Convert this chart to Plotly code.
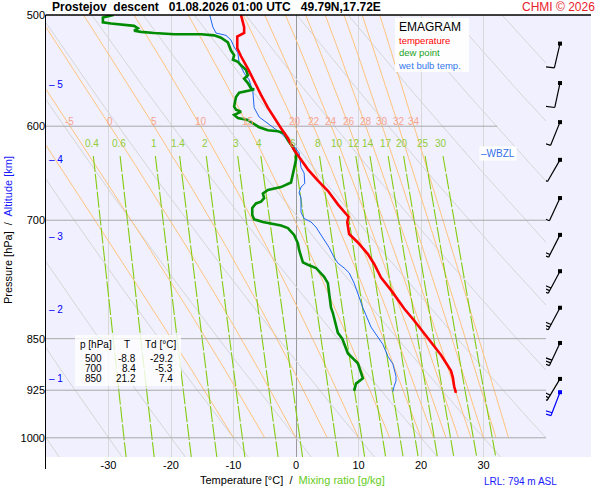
import numpy as np
import plotly.graph_objects as go

# ---- sounding (pressure hPa, temperature degC) ----
TEMP_P = [500, 510, 515, 518, 528, 535, 546, 558, 570, 582, 592, 602, 612, 624, 631,
          644, 656, 667, 682, 696, 702, 716, 726, 740, 752, 769, 785, 809, 825, 850,
          873, 896, 906, 919, 929]
TEMP_T = [-8.8, -8.3, -8.3, -9.4, -9.4, -8.8, -7.7, -6.7, -5.6, -4.5, -3.5, -2.4, -1.3, -0.3, 0.5,
          1.9, 3.5, 5.1, 6.7, 8.4, 8.2, 8.5, 9.9, 11.5, 12.5, 13.6, 15.2, 17.3, 18.9, 21.2,
          23.2, 24.8, 25.1, 25.3, 25.6]

DEW_P = [500, 502, 506, 507, 509, 511, 513, 514, 515, 516, 516, 517, 519, 523, 530,
         534, 538, 540, 543, 547, 552, 555, 559, 564, 565, 567, 568, 572, 581, 584,
         586, 589, 592, 594, 601, 604, 605, 607, 614, 621, 627, 634, 642, 648, 658,
         663, 666, 670, 675, 679, 681, 686, 694, 699, 702, 706, 709, 717, 727, 735,
         750, 753, 757, 768, 776, 789, 808, 815, 842, 850, 871, 878, 885, 907, 915, 926]
DEW_T = [-29.2, -30.9, -30.9, -29.6, -25.9, -25.3, -25.9, -24.8, -22.7, -19.5, -15.2, -13.1, -12.0, -10.9, -10.4,
         -9.9, -10.1, -9.3, -8.8, -8.0, -7.7, -8.3, -7.7, -7.2, -6.7, -8.0, -9.1, -9.6, -9.9, -9.6,
         -8.8, -9.9, -9.3, -7.7, -5.9, -4.5, -2.9, -1.9, -1.3, -0.5, 0.0, 0.0, -0.3, -0.5, -0.8,
         -2.4, -4.5, -5.3, -5.1, -5.6, -6.4, -7.0, -7.0, -6.7, -5.3, -2.4, -1.3, -0.3, 0.3, 0.5,
         1.1, 1.9, 3.2, 4.5, 5.1, 5.3, 5.6, 5.9, 6.7, 7.4, 8.3, 9.1, 9.9, 10.7, 9.6, 9.3]

WB_P = [500, 510, 515, 517, 521, 527, 532, 541, 550, 556, 567, 582, 591, 597, 602,
        607, 614, 620, 627, 642, 648, 659, 663, 669, 675, 691, 698, 702, 708, 720,
        732, 744, 751, 757, 763, 776, 794, 808, 834, 844, 858, 875, 886, 904, 911, 919, 927]
WB_T = [-13.8, -13.3, -12.8, -11.2, -10.4, -9.9, -9.3, -9.1, -8.3, -7.5, -6.9, -6.7, -5.9, -4.5, -3.5,
        -2.4, -1.3, -0.3, 0.5, 0.8, 1.3, 1.4, 0.8, 0.5, 0.8, 0.8, 1.3, 2.4, 3.2, 4.3,
        5.3, 6.1, 6.7, 7.7, 8.5, 9.3, 10.1, 10.7, 12.0, 12.8, 13.9, 14.7, 15.5, 16.0, 16.0, 15.7, 15.5]

# winds: pressure of the barb, direction (deg), speed (kt)
WIND_P = [524, 559, 596, 634, 675, 717, 761, 808, 856, 908]
WIND_DIR = [193, 192, 202, 210, 205, 207, 208, 208, 205, 211]
WIND_KT = [10, 10, 10, 10, 10, 20, 30, 30, 30, 30]
SFC_P, SFC_DIR, SFC_KT = 928, 201, 20

TABLE_P = ["500", "700", "850"]
TABLE_T = ["-8.8", "8.4", "21.2"]
TABLE_TD = ["-29.2", "-5.3", "7.4"]

ALT_KM = [1, 2, 3, 4, 5]
ALT_P = [908, 810, 719, 634, 560]
WBZL_P = 627

# background lines of the emagram
ISOBARS = [600, 700, 850, 925, 1000]
ISOTHERMS = [-30, -20, -10, 0, 10, 20, 30]
DRY_THETA = [-40, -30, -20, -10, 0, 10, 20, 30, 40, 50, 60, 70, 80, 90, 100]
MOIST_TW = [-10, -5, 0, 5, 10, 15, 20, 22, 24, 26, 28, 30, 32, 34]
MIX_RATIO = [0.4, 0.6, 1, 1.4, 2, 3, 4, 6, 8, 10, 12, 14, 17, 20, 25, 30]

# ---- geometry (pixels of the 600x500 page) ----
W, H = 600, 500
ML, MR, MT, MB = 46, 9, 15, 43
PW, PH = W - ML - MR, H - MT - MB
P_TOP, P_BOT = 500, 1032
T_MIN, T_MAX = -40, 40
XDOM = 500 / PW
PX_PER_LN = PH / np.log(P_BOT / P_TOP)
FONT = "Liberation Sans, Arial, sans-serif"


def px(x):
    return (x - ML) / PW


def py(y):
    return (H - MB - y) / PH


def td_from_mixing(w, p):
    e = p * w / (622.0 + w)
    a = np.log(e / 6.112)
    return 243.5 * a / (17.67 - a)


def moist_lapse(t, p):
    tc = t - 273.15
    es = 6.112 * np.exp(17.67 * tc / (tc + 243.5))
    rs = 0.622 * es / (p - es)
    return (287.04 * t + 2.501e6 * rs) / (p * (1005.7 + 2.501e6 ** 2 * rs * 0.622 / (287.04 * t * t)))


def pseudo_adiabat(tw):
    p = np.arange(1000.0, 499.0, -2.0)
    t = np.empty_like(p)
    t[0] = tw + 273.15
    for i in range(1, len(p)):
        dp = p[i] - p[i - 1]
        k1 = moist_lapse(t[i - 1], p[i - 1])
        k2 = moist_lapse(t[i - 1] + 0.5 * dp * k1, p[i - 1] + 0.5 * dp)
        t[i] = t[i - 1] + dp * k2
    return p, t - 273.15


def barb_xy(p0, direction, speed, x0=14.0):
    a = np.radians(direction)
    s = np.array([np.sin(a), -np.cos(a)])
    phi = np.radians(85)
    f = np.array([s[0] * np.cos(phi) - s[1] * np.sin(phi), s[0] * np.sin(phi) + s[1] * np.cos(phi)])
    segs = [(np.zeros(2), 25 * s)]
    n_full, rest = divmod(speed, 10)
    for k in range(n_full):
        st = (25 - 3 * k) * s
        segs.append((st, st + 11 * f))
    if rest >= 5:
        st = (25 - 3 * n_full) * s
        segs.append((st, st + 6 * f))
    xs, ps = [], []
    for a0, a1 in segs:
        for d in (a0, a1):
            xs.append(x0 + d[0])
            ps.append(p0 * np.exp(d[1] / PX_PER_LN))
        xs.append(None)
        ps.append(None)
    return xs, ps


fig = go.Figure()

# dry adiabats
p_dry = np.linspace(P_TOP, P_BOT, 60)
for th in DRY_THETA:
    t = (th + 273.15) * (p_dry / 1000.0) ** 0.2857 - 273.15
    fig.add_trace(go.Scatter(x=t, y=p_dry, mode="lines", line=dict(color="#D6D6D6", width=1), hoverinfo="skip"))

# pseudo-adiabats
t600 = {}
for tw in MOIST_TW:
    pp, tt = pseudo_adiabat(tw)
    t600[tw] = float(np.interp(600, pp[::-1], tt[::-1]))
    fig.add_trace(go.Scatter(x=tt, y=pp, mode="lines", line=dict(color="#FFC47E", width=1), hoverinfo="skip"))

# mixing ratio lines
p_mix = np.linspace(630, P_BOT, 20)
for w in MIX_RATIO:
    fig.add_trace(go.Scatter(x=td_from_mixing(w, p_mix), y=p_mix, mode="lines",
                             line=dict(color="#84CC10", width=1.1, dash="16px,2px"), hoverinfo="skip"))

# isobars
for p in ISOBARS:
    x_end = 32.2 if p == 600 else T_MAX
    fig.add_trace(go.Scatter(x=[T_MIN, x_end], y=[p, p], mode="lines",
                             line=dict(color="#A9A9A9", width=1), hoverinfo="skip"))

# profiles
fig.add_trace(go.Scatter(x=WB_T, y=WB_P, mode="lines", line=dict(color="#1E66F0", width=1)))
fig.add_trace(go.Scatter(x=DEW_T, y=DEW_P, mode="lines", line=dict(color="#008C00", width=2.6)))
fig.add_trace(go.Scatter(x=TEMP_T, y=TEMP_P, mode="lines", line=dict(color="#FF0000", width=2.6)))

# wind barbs
bx, bp = [], []
for p0, d, v in zip(WIND_P, WIND_DIR, WIND_KT):
    xs, ps = barb_xy(p0, d, v)
    bx += xs
    bp += ps
fig.add_trace(go.Scatter(x=bx, y=bp, xaxis="x2", mode="lines", line=dict(color="black", width=1.2)))
fig.add_trace(go.Scatter(x=[14] * len(WIND_P), y=WIND_P, xaxis="x2", mode="markers",
                         marker=dict(color="black", size=4, symbol="square")))
sx, sp = barb_xy(SFC_P, SFC_DIR, SFC_KT)
fig.add_trace(go.Scatter(x=sx, y=sp, xaxis="x2", mode="lines", line=dict(color="#0000FF", width=1.2)))
fig.add_trace(go.Scatter(x=[14], y=[SFC_P], xaxis="x2", mode="markers",
                         marker=dict(color="#0000FF", size=4, symbol="square")))

ann = []
# pseudo-adiabat labels on the 600 hPa line
for tw in MOIST_TW[1:]:
    ann.append(dict(x=t600[tw], y=np.log10(600), xref="x", yref="y", text=str(tw),
                    yshift=5, font=dict(size=10, color="#F6A48E")))
# mixing ratio labels
for w in MIX_RATIO:
    ann.append(dict(x=float(td_from_mixing(w, 617)), y=np.log10(617), xref="x", yref="y",
                    text=f"{w:g}", font=dict(size=10, color="#92CC3A")))
# altitude ticks
for km, p in zip(ALT_KM, ALT_P):
    ann.append(dict(x=px(47), y=np.log10(p), xref="paper", yref="y", text=f"– {km}",
                    xanchor="left", font=dict(size=10, color="#0000FF")))
ann.append(dict(x=px(479), y=np.log10(WBZL_P), xref="paper", yref="y", text="–WBZL",
                xanchor="left", bgcolor="white", borderpad=1, font=dict(size=10, color="#3370E8")))

# title and credits
ann.append(dict(x=px(50), y=py(7), xref="paper", yref="paper", xanchor="left",
                text="<b>Prostejov  descent   01.08.2026 01:00 UTC   49.79N,17.72E</b>",
                font=dict(size=12, color="black")))
ann.append(dict(x=px(597), y=py(7), xref="paper", yref="paper", xanchor="right",
                text="CHMI © 2026", font=dict(size=12, color="#E8202A")))

# legend box
ann.append(dict(x=px(397), y=py(27), xref="paper", yref="paper", xanchor="left",
                text="EMAGRAM", font=dict(size=12, color="black")))
ann.append(dict(x=px(397), y=py(53), xref="paper", yref="paper", xanchor="left", align="left", borderpad=0,
                text="<span style='color:#FF0000'>temperature</span><br>"
                     "<span style='color:#22A022'>dew point</span><br>"
                     "<span style='color:#3377EE'>wet bulb temp.</span>",
                font=dict(size=9.5)))

# value table
ann.append(dict(x=px(78), y=py(344), xref="paper", yref="paper", xanchor="left",
                text="p [hPa]", font=dict(size=10, color="black")))
ann.append(dict(x=px(127), y=py(344), xref="paper", yref="paper",
                text="T", font=dict(size=10, color="black")))
ann.append(dict(x=px(143), y=py(344), xref="paper", yref="paper", xanchor="left",
                text="Td [°C]", font=dict(size=10, color="black")))
for i, (pv, tv, dv) in enumerate(zip(TABLE_P, TABLE_T, TABLE_TD)):
    yy = py(358 + 10 * i)
    for txt, xx in [(pv, 103), (tv, 137), (dv, 174)]:
        ann.append(dict(x=px(xx), y=yy, xref="paper", yref="paper", xanchor="right", borderpad=0,
                        text=txt, font=dict(size=10, color="black")))

# axis titles
ann.append(dict(x=px(8), y=py(230), xref="paper", yref="paper", textangle=-90,
                text="Pressure [hPa]  /  <span style='color:#1A1AFF'>Altitude [km]</span>",
                font=dict(size=11, color="black")))
ann.append(dict(x=px(292), y=py(480), xref="paper", yref="paper",
                text="Temperature [°C]  /  <span style='color:#66CC22'>Mixing ratio [g/kg]</span>",
                font=dict(size=11, color="black")))
ann.append(dict(x=px(520), y=py(481), xref="paper", yref="paper",
                text="LRL: 794 m ASL", font=dict(size=10, color="#1A1AFF")))

for a in ann:
    a.setdefault("showarrow", False)
    a.setdefault("xanchor", "center")
    a.setdefault("yanchor", "middle")

shapes = [
    dict(type="rect", xref="paper", yref="paper", x0=px(395), x1=px(469), y0=py(72), y1=py(18),
         fillcolor="white", line=dict(width=0), opacity=0.9, layer="above"),
    dict(type="rect", xref="paper", yref="paper", x0=px(75), x1=px(181), y0=py(386), y1=py(335),
         fillcolor="white", line=dict(width=0), opacity=0.8, layer="above"),
    dict(type="line", xref="paper", yref="paper", x0=px(45.5), x1=px(591), y0=1, y1=1,
         line=dict(color="black", width=1.5)),
    dict(type="line", xref="paper", yref="paper", x0=px(45.5), x1=px(45.5), y0=py(469), y1=1,
         line=dict(color="black", width=1)),
]

fig.update_layout(
    width=W, height=H, margin=dict(l=ML, r=MR, t=MT, b=MB, autoexpand=False),
    paper_bgcolor="white", plot_bgcolor="#F0F0FE",
    font=dict(family=FONT, size=11, color="black"),
    showlegend=False, hovermode=False,
    annotations=ann, shapes=shapes,
    xaxis=dict(domain=[0, XDOM], range=[T_MIN, T_MAX], tickvals=ISOTHERMS,
               ticktext=[str(v) for v in ISOTHERMS], showgrid=True, gridcolor="#D8D8D8",
               zeroline=True, zerolinecolor="#9A9A9A", zerolinewidth=1, ticks="",
               tickfont=dict(size=11), fixedrange=True, automargin=False),
    xaxis2=dict(domain=[XDOM, 1], range=[0, 45], anchor="y", visible=False, fixedrange=True),
    yaxis=dict(type="log", range=[np.log10(P_BOT), np.log10(P_TOP)],
               tickvals=[500, 600, 700, 850, 925, 1000],
               ticktext=["500", "600", "700", "850", "925", "1000"],
               showgrid=False, zeroline=False, ticks="", tickfont=dict(size=11), fixedrange=True,
               automargin=False),
)

# the page has a default 8px body margin; drop it so the figure sits at the window corner
fig.write_html("out.html", config={"displayModeBar": False},
               post_script="document.body.style.margin='0px';")
